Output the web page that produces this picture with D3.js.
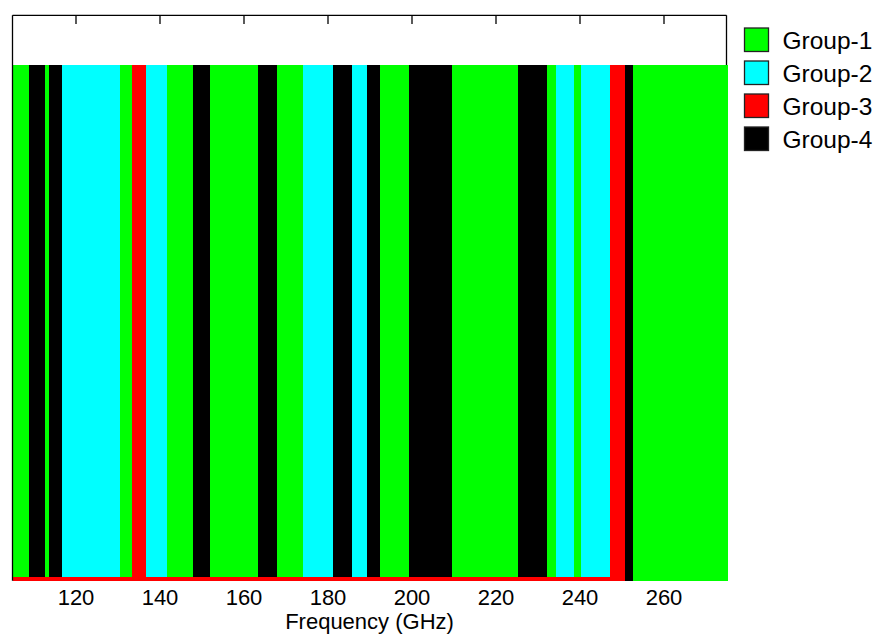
<!DOCTYPE html>
<html><head><meta charset="utf-8">
<script src="https://cdn.jsdelivr.net/npm/d3@7"></script>
<style>body{margin:0;background:#fff}svg{display:block}</style>
</head><body>
<svg id="c" width="878" height="635"></svg>
<script>
// band boundaries (GHz) and the group each band belongs to
const bandEdges = [105, 109.0, 112.7, 113.8, 116.7, 130.6, 133.5, 136.8, 141.8, 148.0, 152.0, 163.4, 167.9, 174.2, 181.4, 185.8, 189.4, 192.5, 199.5, 209.6, 225.4, 232.2, 234.3, 238.7, 240.3, 247.3, 250.8, 252.7, 275.3];
const bandGroups = [1,4,1,4,2,1,3,2,1,4,1,4,1,2,4,2,4,1,4,1,4,1,2,1,2,3,4,1];
const bandValue = 1;
const groups = ["Group-1","Group-2","Group-3","Group-4"];
const groupColors = ["#00ff00","#00ffff","#ff0000","#000000"];
const xTicks = [120,140,160,180,200,220,240,260];
const xDomain = [105, 275];
const yDomain = [0, 1.0964];

const svg = d3.select("#c");
const L = 12.5, R = 726.5, T = 15.3, B = 580.7;
const FONT = "Liberation Sans, Arial, sans-serif";
const x = d3.scaleLinear().domain(xDomain).range([L, R]);
const y = d3.scaleLinear().domain(yDomain).range([B, T]);
const color = d3.scaleOrdinal().domain([1,2,3,4]).range(groupColors);

const bands = bandGroups.map((g, i) => ({g, x0: bandEdges[i], x1: bandEdges[i+1], v: bandValue}));

// right axis line (under bars)
svg.append("line").attr("x1", R).attr("x2", R).attr("y1", T).attr("y2", B)
  .attr("stroke", "#000").attr("stroke-width", 1.3);

svg.append("g").selectAll("rect").data(bands).join("rect")
  .attr("x", d => x(d.x0)).attr("width", d => x(d.x1) - x(d.x0))
  .attr("y", d => y(d.v)).attr("height", d => y(0) - y(d.v))
  .attr("fill", d => color(d.g)).attr("shape-rendering", "crispEdges");

// group-3 baseline
const g3 = bands.filter(d => d.g === 3);
const g3End = d3.max(g3, d => d.x1);
svg.append("rect").attr("x", x(xDomain[0])).attr("width", x(g3End) - x(xDomain[0]))
  .attr("y", y(0) - 4).attr("height", 4).attr("fill", groupColors[2]).attr("shape-rendering", "crispEdges");

// left and top axis lines
svg.append("line").attr("x1", L).attr("x2", L).attr("y1", T).attr("y2", B)
  .attr("stroke", "#000").attr("stroke-width", 1.3);
svg.append("line").attr("x1", L).attr("x2", R).attr("y1", T).attr("y2", T)
  .attr("stroke", "#000").attr("stroke-width", 1.3);

// top ticks
const topAxis = d3.axisBottom(x).tickValues(xTicks).tickSize(8.7).tickFormat("");
const ta = svg.append("g").attr("transform", `translate(0,${T})`).call(topAxis);
ta.select(".domain").remove();
ta.selectAll("line").attr("stroke", "#000").attr("stroke-width", 1.3);

// bottom tick labels
const botAxis = d3.axisBottom(x).tickValues(xTicks).tickSize(0).tickPadding(8.2).tickFormat(d3.format("d"));
const ba = svg.append("g").attr("transform", `translate(0,${B})`).call(botAxis);
ba.select(".domain").remove();
ba.selectAll("text").attr("font-family", FONT).attr("font-size", 22).attr("fill", "#000");

svg.append("text").attr("x", (L + R) / 2).attr("y", 629).attr("text-anchor", "middle")
  .attr("font-family", FONT).attr("font-size", 22).text("Frequency (GHz)");

// legend
const lg = svg.append("g").attr("transform", "translate(744,27.5)");
groups.forEach((name, i) => {
  const gi = lg.append("g").attr("transform", `translate(0,${i * 33})`);
  gi.append("rect").attr("x", 0.5).attr("y", 0.5).attr("width", 24).attr("height", 23.5)
    .attr("fill", groupColors[i]).attr("stroke", "#222").attr("stroke-width", 1.3);
  gi.append("text").attr("x", 38.5).attr("y", 12.5).attr("dy", "0.36em")
    .attr("font-family", FONT).attr("font-size", 24.5).text(name);
});
</script>
</body></html>
